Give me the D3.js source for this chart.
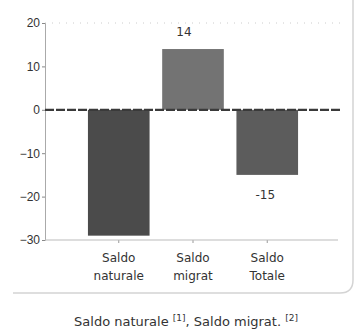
<!DOCTYPE html>
<html>
<head>
<meta charset="utf-8">
<script src="https://cdn.jsdelivr.net/npm/d3@7"></script>
<style>
  body { margin: 0; background: #fff; }
  svg { font-family: "DejaVu Sans", sans-serif; }
</style>
</head>
<body>
<svg id="chart" width="358" height="331"></svg>
<script>
var categories = ['Saldo naturale', 'Saldo migrat', 'Saldo Totale'];
var labelLines = [['Saldo', 'naturale'], ['Saldo', 'migrat'], ['Saldo', 'Totale']];
var values = [-29, 14, -15];
var shownLabels = [null, '14', '-15'];
var yTicks = [20, 10, 0, -10, -20, -30];
var captionParts = [['Saldo naturale ', false], ['[1]', true], [', Saldo migrat. ', false], ['[2]', true]];

var svg = d3.select('#chart'),
    colors = ['#4b4b4b', '#737373', '#5c5c5c'];

var y = d3.scaleLinear()
      .domain([-30, 20])
      .range([240, 23]);

var x = d3.scaleBand()
      .domain(categories)
      .range([82, 304])
      .paddingInner(0.17)
      .paddingOuter(0.08);

// card border
svg.append('path')
    .attr('d', 'M13,293 L340,293 Q353,293 353,280 L353,0')
    .attr('fill', 'none')
    .attr('stroke', '#d4d4d4')
    .attr('stroke-width', 1.5);

// top gridline
svg.append('line')
    .attr('x1', 45).attr('x2', 340)
    .attr('y1', y(20)).attr('y2', y(20))
    .attr('stroke', '#ccc')
    .attr('stroke-dasharray', '1,6');

// y axis
var axisLeft = d3.axisLeft(y)
      .tickValues(yTicks)
      .tickSize(3)
      .tickFormat(d3.format('d'));

var gy = svg.append('g')
    .attr('transform', 'translate(45,0)')
    .call(axisLeft);
gy.select('.domain').attr('stroke', '#aaa');
gy.selectAll('.tick line').attr('stroke', '#888');
gy.selectAll('.tick text')
    .attr('fill', '#333')
    .attr('font-size', 12)
    .attr('x', -5);

// bars
svg.selectAll('rect.bar')
    .data(values)
  .enter().append('rect')
    .attr('class', 'bar')
    .attr('x', function(d, i) { return x(categories[i]); })
    .attr('width', x.bandwidth())
    .attr('y', function(d) { return y(Math.max(0, d)); })
    .attr('height', function(d) { return Math.abs(y(d) - y(0)); })
    .attr('fill', function(d, i) { return colors[i]; });

// zero line
svg.append('line')
    .attr('x1', 45).attr('x2', 340)
    .attr('y1', y(0)).attr('y2', y(0))
    .attr('stroke', '#3a3a3a')
    .attr('stroke-width', 2.2)
    .attr('stroke-dasharray', '9,2');

// bottom axis
var axisBottom = d3.axisBottom(x).tickSize(3).tickFormat('');
var gx = svg.append('g')
    .attr('transform', 'translate(0,' + y(-30) + ')')
    .call(axisBottom);
gx.select('.domain').remove();
gx.selectAll('.tick line').attr('stroke', '#999');
svg.append('line')
    .attr('x1', 45).attr('x2', 338)
    .attr('y1', y(-30)).attr('y2', y(-30))
    .attr('stroke', '#bbb')
    .attr('stroke-width', 1.2);

// category labels
labelLines.forEach(function(lines, i) {
  var cx = x(categories[i]) + x.bandwidth() / 2;
  lines.forEach(function(t, j) {
    svg.append('text')
        .attr('x', cx)
        .attr('y', 262 + j * 18)
        .attr('text-anchor', 'middle')
        .attr('font-size', 12)
        .attr('fill', '#333')
        .text(t);
  });
});

// value labels
var labelData = values.map(function(v, i) {
  return { cat: categories[i], value: v, label: shownLabels[i] };
}).filter(function(d) { return d.label !== null; });

svg.selectAll('text.val')
    .data(labelData)
  .enter().append('text')
    .attr('class', 'val')
    .attr('x', function(d) { return x(d.cat) + x.bandwidth() / 2 + (d.value > 0 ? -9 : -2); })
    .attr('y', function(d) { return d.value > 0 ? y(d.value) - 13 : y(d.value) + 24; })
    .attr('text-anchor', 'middle')
    .attr('font-size', 12)
    .attr('fill', '#333')
    .text(function(d) { return d.label; });

// caption
var cap = svg.append('text')
    .attr('x', 186)
    .attr('y', 326)
    .attr('text-anchor', 'middle')
    .attr('font-size', 13)
    .attr('fill', '#333');
captionParts.forEach(function(p) {
  var t = cap.append('tspan').text(p[0]);
  if (p[1]) {
    t.attr('font-size', 9).attr('dy', -5);
  } else {
    t.attr('dy', 5);
  }
});
cap.select('tspan').attr('dy', 0);
</script>
</body>
</html>
